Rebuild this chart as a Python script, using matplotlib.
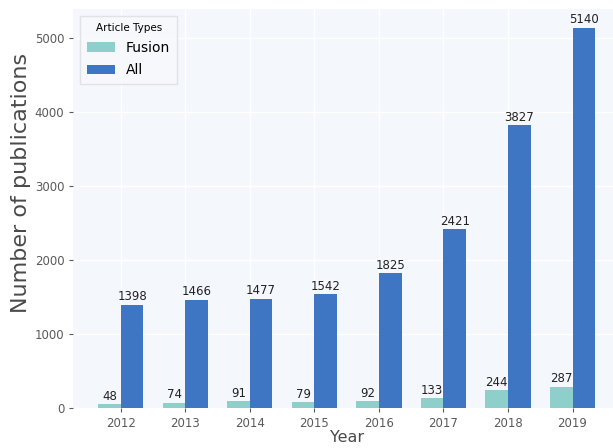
import matplotlib
matplotlib.use("Agg")
import matplotlib.pyplot as plt
import numpy as np

years = ["2012", "2013", "2014", "2015", "2016", "2017", "2018", "2019"]
fusion = [48, 74, 91, 79, 92, 133, 244, 287]
all_types = [1398, 1466, 1477, 1542, 1825, 2421, 3827, 5140]

fusion_color = "#8ecfcb"
all_color = "#3e76c4"

fig = plt.figure(figsize=(6.13, 4.48), dpi=100)
ax = fig.add_axes([0.1196, 0.0893, 0.8918, 0.891])
ax.set_facecolor("#f4f7fc")
for s in ax.spines.values():
    s.set_visible(False)
ax.grid(True, color="white", linewidth=1.0)
ax.set_axisbelow(True)

x = np.arange(len(years))
w = 0.35
b1 = ax.bar(x - w / 2, fusion, w, color=fusion_color, label="Fusion")
b2 = ax.bar(x + w / 2, all_types, w, color=all_color, label="All")
ax.bar_label(b1, padding=1, fontsize=8.5, color="#222222")
ax.bar_label(b2, padding=1, fontsize=8.5, color="#222222")

ax.set_xticks(x)
ax.set_xticklabels(years)
ax.set_yticks([0, 1000, 2000, 3000, 4000, 5000])
ax.tick_params(axis="both", labelsize=8.5, colors="#5a5a5a", length=3, width=0.8)
ax.set_xlabel("Year", fontsize=11.5, color="#4a4a4a", labelpad=0)
ax.set_ylabel("Number of publications", fontsize=16, color="#4a4a4a")
ax.yaxis.set_label_coords(-0.078, 0.565)

leg = ax.legend(title="Article Types", loc="upper left", fontsize=10,
                title_fontsize=7.5, frameon=True, fancybox=False,
                labelspacing=0.6, borderpad=0.5)
leg.get_frame().set_edgecolor("#dddddd")
leg.get_frame().set_facecolor("#f8f9fc")

fig.savefig("out.png", dpi=100)
